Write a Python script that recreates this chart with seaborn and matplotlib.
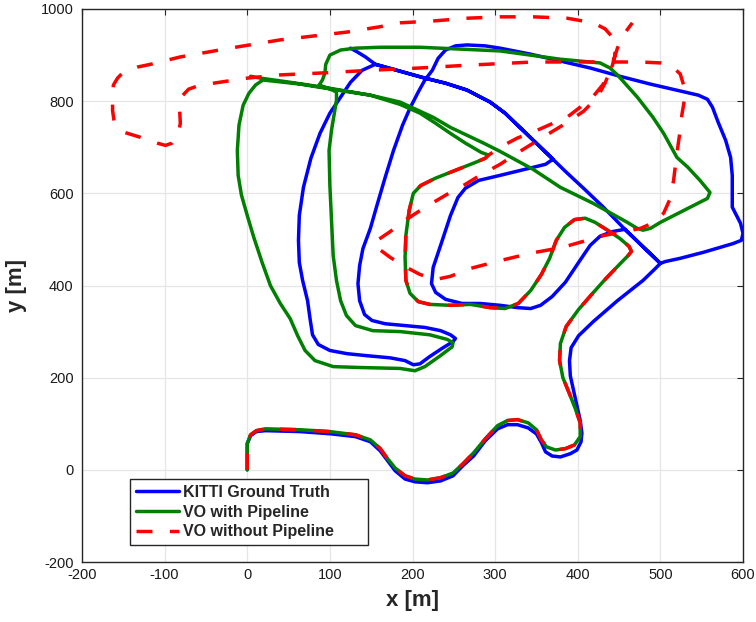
import matplotlib
matplotlib.use("Agg")
import matplotlib.pyplot as plt
import seaborn as sns
import pandas as pd

# ---------------- data (metres) ----------------
series_labels = ["KITTI Ground Truth", "VO with Pipeline", "VO without Pipeline"]
x_ticks = [-200, -100, 0, 100, 200, 300, 400, 500, 600]
y_ticks = [-200, 0, 200, 400, 600, 800, 1000]

ground_truth_xy = [
    (0, 0), (0, 30), (0, 57), (4, 74), (11, 83), (22, 85), (64, 83), (102, 78), (131, 72), (149, 61),
    (161, 41), (169, 22), (179, -2), (191, -20), (203, -26), (218, -28), (234, -24), (249, -13), (261, 9),
    (274, 30), (288, 63), (303, 89), (315, 98), (327, 98), (340, 91), (350, 78), (356, 59), (361, 39),
    (369, 30), (379, 28), (391, 35), (399, 43), (404, 61), (405, 80), (403, 107), (399, 139), (395, 172),
    (391, 204), (390, 237), (392, 265), (401, 291), (419, 322), (448, 367), (479, 411), (494, 437), (500, 448),
    (479, 484), (457, 522),
    (442, 517), (427, 507), (415, 487), (401, 450), (385, 407), (369, 376), (355, 357), (343, 350), (327, 352),
    (306, 357), (282, 361), (260, 361), (240, 370), (228, 385), (223, 404), (225, 439), (234, 487), (246, 552),
    (255, 591), (264, 611), (280, 628), (306, 639), (336, 652), (361, 663), (370, 674),
    (355, 700), (330, 743), (312, 774), (294, 798), (266, 824), (240, 839), (215, 850), (185, 865), (155, 880),
    (139, 867), (125, 841), (113, 809), (100, 774), (88, 730), (77, 676), (68, 613), (63, 552), (62, 498),
    (63, 450), (67, 411), (73, 367), (76, 328), (79, 293), (86, 272), (100, 259), (121, 252), (143, 248),
    (173, 243), (191, 237), (201, 228), (209, 230), (221, 246), (237, 265), (249, 278), (252, 285), (246, 293),
    (234, 302), (215, 309), (191, 313), (167, 317), (151, 324), (142, 337), (136, 367), (134, 404), (136, 443),
    (140, 480), (149, 524), (157, 574), (167, 635), (177, 693), (188, 748), (197, 785), (207, 820), (215, 846),
    (224, 867), (231, 893), (240, 911), (252, 920), (266, 922), (288, 920), (306, 915), (343, 902), (379, 887),
    (415, 872), (451, 854), (488, 837), (524, 822), (546, 813), (557, 804), (563, 787), (570, 754), (579, 715),
    (585, 678), (587, 639), (587, 570), (597, 535), (600, 513), (598, 498), (588, 491), (552, 472), (524, 459),
    (506, 452), (500, 448),
    (479, 484), (457, 522), (431, 570), (407, 611), (386, 646), (370, 674), (355, 700), (330, 743), (312, 774),
    (294, 798), (266, 824), (240, 839), (215, 850), (185, 865), (155, 880), (143, 896), (133, 907), (125, 915),
]

with_pipeline_xy = [
    (0, 0), (0, 57), (4, 76), (11, 85), (22, 89), (64, 87), (100, 83), (131, 76), (149, 65), (161, 46),
    (169, 26), (179, 4), (191, -13), (203, -20), (218, -22), (234, -17), (249, -7), (261, 13), (274, 37),
    (288, 67), (303, 96), (315, 107), (327, 109), (340, 102), (350, 87), (356, 65), (362, 50), (373, 43),
    (385, 46), (396, 54), (403, 72), (403, 102), (397, 133), (390, 165), (382, 200), (378, 237), (379, 274),
    (386, 311), (401, 348), (418, 383), (433, 413), (449, 443), (461, 465), (465, 474),
    (462, 485), (451, 502), (436, 520), (421, 537), (409, 546), (396, 543), (384, 526), (374, 498), (366, 459),
    (356, 424), (343, 389), (328, 361), (312, 350), (294, 352), (270, 359), (246, 357), (221, 359), (207, 365),
    (197, 383), (192, 411), (191, 461), (192, 509), (196, 563), (201, 600), (210, 617), (228, 633), (252, 650),
    (276, 667), (288, 676), (292, 683),
    (283, 689), (264, 709), (246, 730), (228, 752), (209, 774), (185, 793), (149, 813), (109, 824), (64, 837),
    (19, 846), (10, 835), (2, 817), (-5, 791), (-10, 748), (-12, 693), (-11, 639), (-7, 596), (0, 552), (8, 504),
    (18, 450), (28, 400), (40, 361), (52, 328), (61, 291), (70, 259), (82, 237), (104, 224), (137, 222),
    (185, 220), (203, 215), (215, 224), (234, 248), (248, 267), (249, 276), (242, 283), (221, 293), (185, 300),
    (152, 302), (131, 313), (120, 335), (113, 367), (108, 411), (104, 465), (102, 541), (100, 617), (99, 693),
    (102, 737), (105, 770), (108, 802), (108, 820),
    (98, 828), (87, 835), (91, 846), (94, 861), (95, 880), (100, 900), (113, 911), (131, 915), (161, 917),
    (209, 917), (258, 913), (306, 909), (379, 891), (403, 887), (427, 883), (439, 872), (448, 857), (472, 809),
    (491, 765), (504, 730), (520, 678), (533, 657), (548, 628), (560, 602), (557, 589), (533, 567), (500, 537),
    (488, 524), (479, 520), (472, 524), (460, 537), (419, 578), (379, 613), (346, 652), (306, 691), (286, 709),
    (246, 743), (225, 765), (185, 798), (149, 813), (100, 828), (52, 841), (16, 850), (4, 854),
]

without_pipeline_xy = [
    (0, 0), (0, 57), (4, 76), (11, 85), (22, 89), (64, 87), (100, 83), (131, 76), (149, 65), (161, 46),
    (169, 26), (179, 4), (191, -13), (203, -20), (218, -22), (234, -17), (249, -7), (261, 13), (274, 37),
    (288, 67), (303, 96), (315, 107), (327, 109), (340, 102), (350, 87), (356, 65), (362, 50), (373, 43),
    (385, 46), (396, 54), (403, 72), (403, 102), (397, 133), (390, 165), (382, 200), (378, 237), (379, 274),
    (386, 311), (401, 348), (418, 383), (433, 413), (449, 443), (461, 465), (465, 474),
    (462, 485), (451, 502), (436, 520), (421, 537), (409, 546), (396, 543), (384, 526), (374, 498), (366, 459),
    (356, 424), (343, 389), (328, 361), (312, 350), (294, 352), (270, 359), (246, 357), (221, 359), (207, 365),
    (197, 383), (192, 411), (191, 461), (192, 509), (196, 563), (201, 600), (210, 617), (228, 633), (252, 650),
    (276, 667), (288, 676), (292, 683),
    (310, 704), (327, 720), (351, 737), (370, 752), (387, 765), (403, 787), (419, 811), (430, 835), (437, 857),
    (442, 878), (445, 900), (445, 922), (441, 941), (433, 957), (419, 970), (387, 980), (346, 983), (306, 983),
    (266, 980), (225, 974), (185, 970), (159, 961), (121, 950), (88, 943), (40, 933), (-21, 915), (-81, 896),
    (-117, 880), (-133, 874), (-150, 863), (-157, 850), (-162, 835), (-163, 813), (-163, 780), (-161, 754),
    (-150, 733), (-130, 722), (-109, 709), (-99, 704), (-91, 709), (-84, 726), (-81, 752), (-82, 787),
    (-80, 809), (-71, 826), (-57, 835), (-41, 839), (0, 850), (40, 857), (88, 861), (149, 867), (209, 872),
    (266, 878), (346, 885), (427, 885), (476, 885), (500, 883), (514, 876), (524, 859), (529, 830), (529, 802),
    (526, 770), (524, 737), (520, 687), (516, 628), (511, 585), (504, 557), (490, 535), (476, 524), (457, 517),
    (433, 509), (411, 498), (382, 483), (343, 470), (306, 454), (270, 437), (246, 420), (228, 413), (209, 424),
    (191, 441), (173, 461), (155, 485), (153, 489), (159, 500), (173, 517), (189, 539), (206, 559), (225, 580),
    (242, 598), (258, 613), (278, 635), (306, 663), (330, 691), (358, 722), (382, 748), (407, 778), (424, 809),
    (433, 839), (441, 874), (448, 915), (455, 943), (466, 970),
]

series_points = [ground_truth_xy, with_pipeline_xy, without_pipeline_xy]
series_colors = ["#0000ff", "#008000", "#ff0000"]

# ---------------- figure ----------------
sns.set_theme(style="white")
plt.rcParams['font.family'] = ['Liberation Sans', 'DejaVu Sans']
plt.rcParams['axes.unicode_minus'] = False

fig = plt.figure(figsize=(7.56, 6.22), dpi=100)
ax = fig.add_axes([82 / 756, 1 - 562 / 622, (743 - 82) / 756, (562 - 9) / 622])

for pts, lab, col in zip(series_points, series_labels, series_colors):
    df = pd.DataFrame(pts, columns=["x", "y"])
    kw = dict(solid_joinstyle="round", solid_capstyle="round")
    if lab == "VO without Pipeline":
        kw = dict(linestyle=(0, (4.6, 5.0)), dash_capstyle="butt", dash_joinstyle="round")
    sns.lineplot(data=df, x="x", y="y", sort=False, estimator=None, ax=ax,
                 color=col, linewidth=2.5, label=lab, **kw)

ax.set_xlim(-200, 600)
ax.set_ylim(-200, 1000)
ax.set_xticks(x_ticks)
ax.set_yticks(y_ticks)
ax.grid(True, color="#e6e6e6", linewidth=0.9)
ax.set_axisbelow(True)
for s in ax.spines.values():
    s.set_color("#262626")
    s.set_linewidth(1.0)
    s.set_visible(True)
ax.tick_params(direction="in", length=4.5, width=0.8, top=True, right=True,
               labelsize=10.5, colors="#262626")
ax.tick_params(axis="x", pad=4)
ax.tick_params(axis="y", pad=6)
for t in ax.get_xticklabels() + ax.get_yticklabels():
    t.set_color("#1a1a1a")

ax.set_xlabel("x [m]", fontsize=16, fontweight="bold", labelpad=6, color="#262626")
ax.set_ylabel("y [m]", fontsize=16, fontweight="bold", labelpad=10, color="#262626")

leg = ax.legend(loc="lower left", bbox_to_anchor=(130 / 756, 1 - 545 / 622, 238 / 756, 65 / 622),
                bbox_transform=fig.transFigure, mode="expand", borderaxespad=0,
                prop=dict(weight="bold", size=11.5), fancybox=False, framealpha=1,
                edgecolor="#262626", handlelength=2.7, handletextpad=0.25,
                labelspacing=0.3, borderpad=0.35)
leg.get_frame().set_linewidth(1.0)

fig.savefig("out.png", dpi=100)
